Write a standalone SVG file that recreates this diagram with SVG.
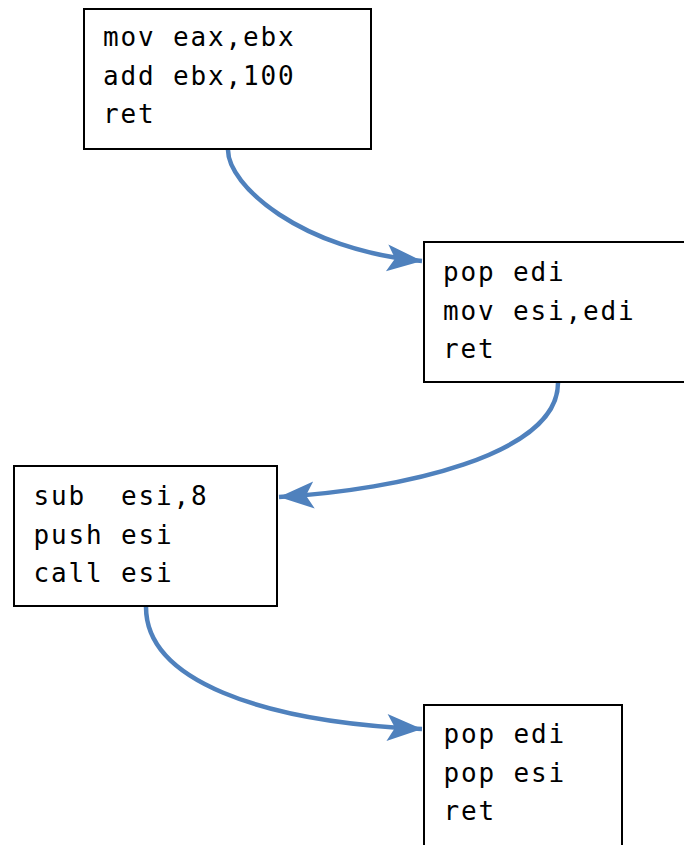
<svg xmlns="http://www.w3.org/2000/svg" width="684" height="845" viewBox="0 0 684 845">
<style>
.box{fill:#ffffff;stroke:#000000;stroke-width:2}
.t{font-family:"DejaVu Sans Mono","Liberation Mono",monospace;font-size:26px;letter-spacing:1.85px;fill:#000000}
.c{fill:none;stroke:#4F81BD;stroke-width:4.5;stroke-linecap:butt}
</style>
<defs>
<marker id="ah" markerUnits="userSpaceOnUse" markerWidth="40" markerHeight="30" refX="37" refY="15" orient="auto" viewBox="0 0 40 30" overflow="visible">
<path d="M37,15 L2,1.5 L10,15 L2,28.5 Z" fill="#4F81BD"/>
</marker>
</defs>
<rect width="684" height="845" fill="#ffffff"/>
<g id="node1">
<rect class="box" x="84" y="9" width="287" height="140"/>
<text class="t" x="103" y="46">mov eax,ebx</text>
<text class="t" x="103" y="84.5">add ebx,100</text>
<text class="t" x="103" y="123">ret</text>
</g>
<g id="node2">
<rect class="box" x="424" y="242" width="270" height="140"/>
<text class="t" x="443" y="281">pop edi</text>
<text class="t" x="443" y="319.5">mov esi,edi</text>
<text class="t" x="443" y="358">ret</text>
</g>
<g id="node3">
<rect class="box" x="14" y="466" width="263" height="140"/>
<text class="t" x="33.5" y="505" xml:space="preserve">sub  esi,8</text>
<text class="t" x="33.5" y="543.5">push esi</text>
<text class="t" x="33.5" y="582">call esi</text>
</g>
<g id="node4">
<rect class="box" x="424" y="705" width="198" height="150"/>
<text class="t" x="443.5" y="743">pop edi</text>
<text class="t" x="443.5" y="782">pop esi</text>
<text class="t" x="443.5" y="820">ret</text>
</g>
<g id="connectors">
<path class="c" d="M228,150 C228,185 300,250 422,261" marker-end="url(#ah)"/>
<path class="c" d="M558,383 C558,455 400,490 279,497" marker-end="url(#ah)"/>
<path class="c" d="M146,607 C146,680 260,722 422,729" marker-end="url(#ah)"/>
</g>
</svg>
